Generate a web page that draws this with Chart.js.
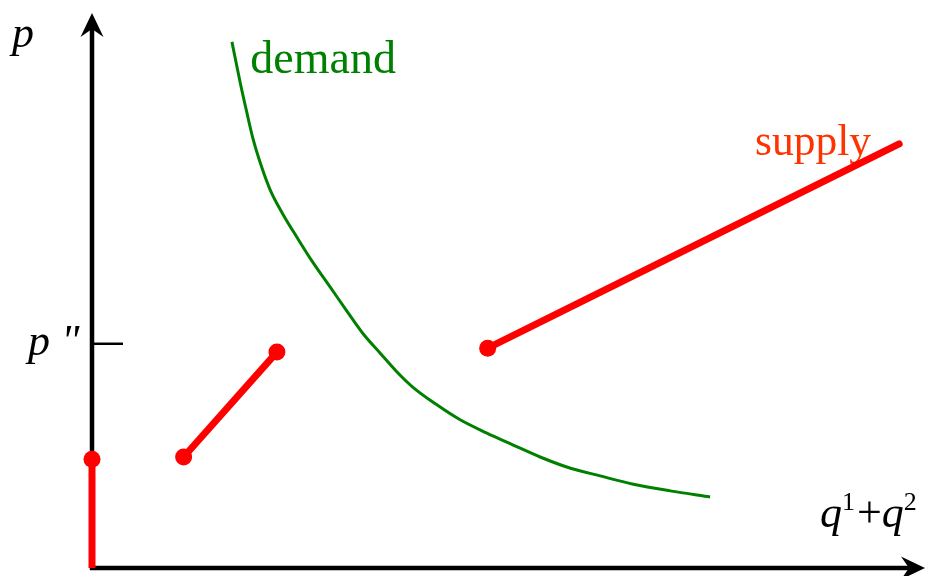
<!DOCTYPE html>
<html>
<head>
<meta charset="utf-8">
<script src="https://cdn.jsdelivr.net/npm/chart.js@4"></script>
<style>
  body { margin: 0; background: #fff; }
  canvas { display: block; }
</style>
</head>
<body>
<canvas id="myChart" width="925" height="576"></canvas>
<script>
// demand curve (x = q1+q2, y = p)
const demandX = [1.68, 1.78, 1.86, 1.93, 2.04, 2.14, 2.29, 2.46, 2.65, 2.86, 3.06, 3.25, 3.46,
                 3.65, 3.85, 4.14, 4.42, 4.74, 5.05, 5.38, 5.70, 6.10, 6.50, 6.94, 7.42];
const demandY = [9.48, 8.74, 8.20, 7.75, 7.21, 6.81, 6.38, 5.96, 5.51, 5.06, 4.63, 4.23, 3.87,
                 3.55, 3.26, 2.94, 2.67, 2.43, 2.22, 2.00, 1.82, 1.66, 1.51, 1.39, 1.28];

// supply, three pieces
const supplyLowX = [0, 0];
const supplyLowY = [0, 1.96];
const supplyMidX = [1.10, 2.22];
const supplyMidY = [2.00, 3.89];
const supplyHighX = [4.75, 9.69];
const supplyHighY = [3.96, 7.64];

// the one marked price on the p axis
const priceTicks = [4.04];
const priceTickLabels = ['p "'];

// curve names, anchored at a data point (left edge, baseline)
const curveLabels = ['demand', 'supply'];
const curveLabelX = [1.90, 7.96];
const curveLabelY = [8.92, 7.44];

const GREEN = '#008000';
const RED = '#ff0000';

const toPoints = (xs, ys) => xs.map((x, i) => ({ x: x, y: ys[i] }));

const arrowHead = (ctx, tipX, tipY, dx, dy) => {
  // dx, dy: unit direction of the arrow
  const len = 24, half = 11.5, notch = 16;
  const px = -dy, py = dx;
  ctx.beginPath();
  ctx.moveTo(tipX, tipY);
  ctx.lineTo(tipX - dx * len + px * half, tipY - dy * len + py * half);
  ctx.lineTo(tipX - dx * notch, tipY - dy * notch);
  ctx.lineTo(tipX - dx * len - px * half, tipY - dy * len - py * half);
  ctx.closePath();
  ctx.fill();
};

const diagram = {
  id: 'diagram',
  beforeDatasetsDraw(chart) {
    const ctx = chart.ctx;
    const xs = chart.scales.x;
    const ys = chart.scales.y;
    const ox = xs.getPixelForValue(0);
    const oy = ys.getPixelForValue(0);
    const top = ys.getPixelForValue(ys.max);
    const right = xs.getPixelForValue(xs.max);

    ctx.save();
    // axes
    ctx.strokeStyle = '#000';
    ctx.fillStyle = '#000';
    ctx.lineWidth = 4.5;
    ctx.beginPath();
    ctx.moveTo(ox, oy + 2);
    ctx.lineTo(ox, top + 14);
    ctx.moveTo(ox - 2, oy);
    ctx.lineTo(right - 14, oy);
    ctx.stroke();
    arrowHead(ctx, ox, top, 0, -1);
    arrowHead(ctx, right, oy, 1, 0);

    // price tick on the inside of the p axis
    ctx.lineWidth = 2.5;
    ctx.font = 'italic 44px "Liberation Serif"';
    ctx.textBaseline = 'alphabetic';
    priceTicks.forEach((v, i) => {
      const py = ys.getPixelForValue(v);
      ctx.beginPath();
      ctx.moveTo(ox, py);
      ctx.lineTo(ox + 31, py);
      ctx.stroke();
      ctx.fillText(priceTickLabels[i], ox - 64, py + 11);
    });

    // axis names
    ctx.fillText('p', ox - 80, top + 34);

    let qx = xs.getPixelForValue(8.74);
    const qy = ys.getPixelForValue(0.74);
    const piece = (txt, font, rise) => {
      ctx.font = font;
      ctx.fillText(txt, qx, qy - rise);
      qx += ctx.measureText(txt).width;
    };
    piece('q', 'italic 44px "Liberation Serif"', 0);
    piece('1', '26px "Liberation Serif"', 17);
    qx += 2;
    piece('+', '44px "Liberation Serif"', 0);
    piece('q', 'italic 44px "Liberation Serif"', 0);
    piece('2', '26px "Liberation Serif"', 17);

    // curve names
    const colors = [GREEN, '#ff3300'];
    const sizes = [46, 43.5];
    curveLabels.forEach((txt, i) => {
      ctx.font = sizes[i] + 'px "Liberation Serif"';
      ctx.fillStyle = colors[i];
      ctx.fillText(txt, xs.getPixelForValue(curveLabelX[i]), ys.getPixelForValue(curveLabelY[i]));
    });
    ctx.restore();
  }
};

const supplyStyle = {
  showLine: true,
  borderColor: RED,
  backgroundColor: RED,
  borderWidth: 7,
  pointBorderWidth: 0,
  borderCapStyle: 'round',
  clip: false
};

const data = {
  datasets: [
    {
      label: 'demand',
      data: toPoints(demandX, demandY),
      showLine: true,
      borderColor: GREEN,
      borderWidth: 3,
      pointRadius: 0,
      cubicInterpolationMode: 'monotone',
      clip: false
    },
    Object.assign({ label: 'supply low', data: toPoints(supplyLowX, supplyLowY), pointRadius: [0, 8.5] }, supplyStyle, { borderCapStyle: 'butt' }),
    Object.assign({ label: 'supply mid', data: toPoints(supplyMidX, supplyMidY), pointRadius: [8.5, 8.5] }, supplyStyle),
    Object.assign({ label: 'supply high', data: toPoints(supplyHighX, supplyHighY), pointRadius: [8.5, 0] }, supplyStyle)
  ]
};

const config = {
  type: 'scatter',
  data,
  options: {
    responsive: false,
    animation: false,
    layout: { autoPadding: false, padding: { left: 92, right: 0, top: 13, bottom: 8 } },
    plugins: {
      legend: { display: false },
      tooltip: { enabled: false }
    },
    scales: {
      x: { type: 'linear', min: 0, max: 10, display: false },
      y: { type: 'linear', min: 0, max: 10, display: false }
    }
  },
  plugins: [diagram]
};

new Chart(document.getElementById('myChart'), config);
</script>
</body>
</html>
